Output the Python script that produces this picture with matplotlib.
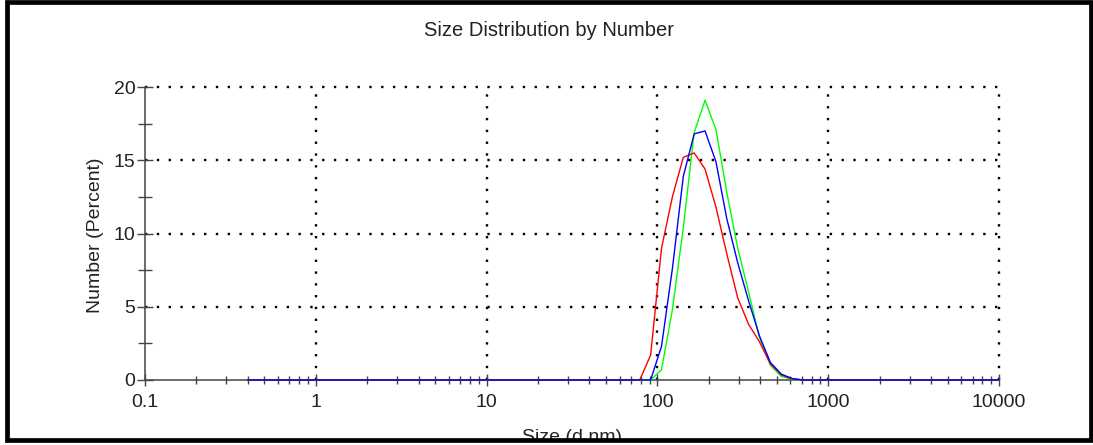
import matplotlib
matplotlib.use('Agg')
import matplotlib.pyplot as plt
from matplotlib.patches import Rectangle
from matplotlib.ticker import LogLocator, NullFormatter

plt.rcParams['font.family'] = ['Liberation Sans', 'DejaVu Sans']

# size classes (d.nm)
sizes = [0.4, 0.4632, 0.5365, 0.6213, 0.7195, 0.8332, 0.9649, 1.117, 1.294, 1.499,
         1.736, 2.010, 2.328, 2.696, 3.122, 3.615, 4.187, 4.849, 5.615, 6.503,
         7.531, 8.721, 10.10, 11.70, 13.54, 15.69, 18.17, 21.04, 24.36, 28.21,
         32.67, 37.84, 43.82, 50.75, 58.77, 68.06, 78.82, 91.28, 105.7, 122.4,
         141.8, 164.2, 190.1, 220.2, 255.0, 295.3, 342.0, 396.1, 458.7, 531.2,
         615.1, 712.4, 825.0, 955.4, 1106, 1281, 1484, 1718, 1990, 2305,
         2669, 3091, 3580, 4145, 4801, 5560, 6439, 7456, 8635, 10000]

# number (percent) for the three records
red_vals = [0, 0, 0, 0, 0, 0, 0, 0, 0, 0,
            0, 0, 0, 0, 0, 0, 0, 0, 0, 0,
            0, 0, 0, 0, 0, 0, 0, 0, 0, 0,
            0, 0, 0, 0, 0, 0, 0, 1.7, 9.0, 12.5,
            15.2, 15.5, 14.4, 11.8, 8.6, 5.6, 3.8, 2.6, 1.1, 0.35,
            0.08, 0, 0, 0, 0, 0, 0, 0, 0, 0,
            0, 0, 0, 0, 0, 0, 0, 0, 0, 0]
green_vals = [0, 0, 0, 0, 0, 0, 0, 0, 0, 0,
              0, 0, 0, 0, 0, 0, 0, 0, 0, 0,
              0, 0, 0, 0, 0, 0, 0, 0, 0, 0,
              0, 0, 0, 0, 0, 0, 0, 0, 0.7, 4.8,
              10.4, 16.9, 19.1, 17.1, 12.8, 9.0, 6.0, 2.9, 1.0, 0.25,
              0.05, 0, 0, 0, 0, 0, 0, 0, 0, 0,
              0, 0, 0, 0, 0, 0, 0, 0, 0, 0]
blue_vals = [0, 0, 0, 0, 0, 0, 0, 0, 0, 0,
             0, 0, 0, 0, 0, 0, 0, 0, 0, 0,
             0, 0, 0, 0, 0, 0, 0, 0, 0, 0,
             0, 0, 0, 0, 0, 0, 0, 0, 2.3, 7.6,
             13.9, 16.8, 17.0, 14.9, 11.0, 8.0, 5.4, 3.0, 1.2, 0.4,
             0.1, 0, 0, 0, 0, 0, 0, 0, 0, 0,
             0, 0, 0, 0, 0, 0, 0, 0, 0, 0]

xticks = [0.1, 1, 10, 100, 1000, 10000]
xtick_labels = ['0.1', '1', '10', '100', '1000', '10000']
yticks = [0, 5, 10, 15, 20]
yminor = [2.5, 7.5, 12.5, 17.5]

fig = plt.figure(figsize=(10.93, 4.45), dpi=100)
ax = fig.add_axes([145 / 1093, 65 / 445, 854 / 1093, 293 / 445])

# dotted grid
dots = (0, (1, 4))
for yv in yticks[1:]:
    ax.axhline(yv, color='black', lw=1.7, ls=dots, zorder=1, clip_on=False)
for xv in xticks[1:]:
    ax.axvline(xv, color='black', lw=1.7, ls=dots, zorder=1, clip_on=False)

ax.plot(sizes, green_vals, color='#00ff00', lw=1.0, zorder=3, clip_on=False)
ax.plot(sizes, red_vals, color='#ff0000', lw=1.0, zorder=3, clip_on=False)
ax.plot(sizes, blue_vals, color='#0000ff', lw=1.0, zorder=3, clip_on=False)

ax.set_xscale('log')
ax.set_xlim(0.1, 10000)
ax.set_ylim(0, 20)

ax.set_xticks(xticks, labels=xtick_labels)
ax.xaxis.set_minor_locator(LogLocator(base=10, subs=[2, 3, 4, 5, 6, 7, 8, 9]))
ax.xaxis.set_minor_formatter(NullFormatter())
ax.set_yticks(yticks)
ax.set_yticks(yminor, minor=True)

for s in ['top', 'right']:
    ax.spines[s].set_visible(False)
for s in ['left', 'bottom']:
    ax.spines[s].set_color('#444444')
    ax.spines[s].set_linewidth(1.1)
    ax.spines[s].set_zorder(2)

ax.tick_params(axis='both', which='both', direction='inout', color='#444444',
               width=1.0, labelsize=14, labelcolor='#222222')
ax.tick_params(axis='x', which='major', length=8, pad=6)
ax.tick_params(axis='x', which='minor', length=6)
ax.tick_params(axis='y', which='major', length=12, pad=1)
ax.tick_params(axis='y', which='minor', length=10)

fig.text(549 / 1093, 1 - 31 / 445, 'Size Distribution by Number', ha='center',
         va='center', fontsize=14.5, color='#222222')
fig.text(95 / 1093, 1 - 235 / 445, 'Number (Percent)', rotation=90, ha='center',
         va='center', fontsize=14, color='#222222')
fig.text(572 / 1093, 3 / 445, 'Size (d.nm)', ha='center', va='baseline',
         fontsize=14, color='#222222', zorder=5)

# white strip below the frame cuts the axis title
fig.patches.append(Rectangle((0, 0), 1, 6 / 445, transform=fig.transFigure,
                             facecolor='white', edgecolor='none', zorder=8))
fig.patches.append(Rectangle((7 / 1093, 1 - 439.5 / 445), 1083.5 / 1093, 438 / 445,
                             transform=fig.transFigure, fill=False,
                             edgecolor='black', lw=3.4, zorder=10))

fig.savefig('out.png', dpi=100)
